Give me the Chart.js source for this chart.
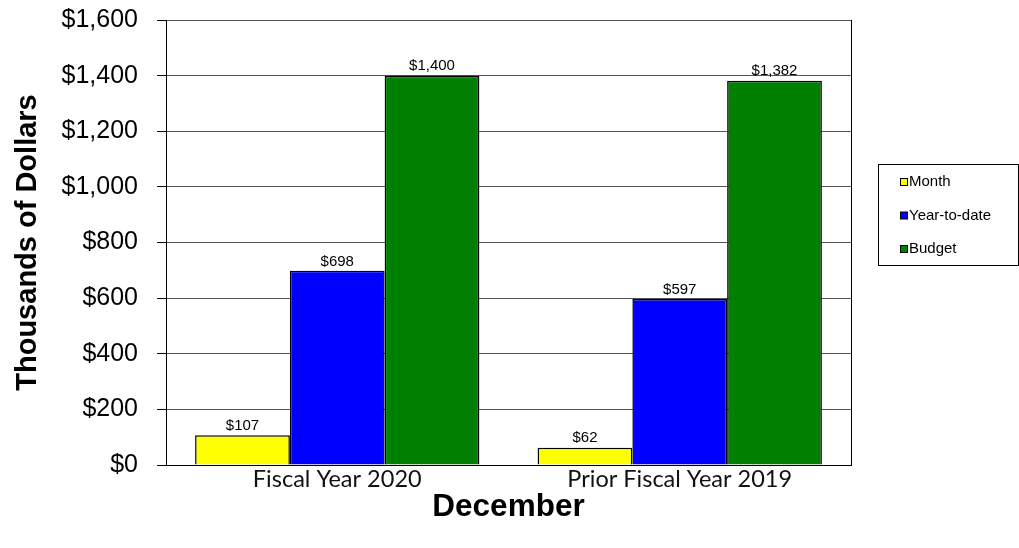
<!DOCTYPE html>
<html>
<head>
<meta charset="utf-8">
<script src="https://cdn.jsdelivr.net/npm/chart.js@4.4.1/dist/chart.umd.min.js"></script>
<style>
  html, body { margin: 0; padding: 0; background: #fff; }
  #wrap { width: 1019px; height: 548px; }
</style>
</head>
<body>
<div id="wrap"><canvas id="barChart"></canvas></div>
<script>
// Categories and series
const categories = ['Fiscal Year 2020', 'Prior Fiscal Year 2019'];
const seriesLabels = ['Month', 'Year-to-date', 'Budget'];
const monthValues = [107, 62];
const ytdValues = [698, 597];
const budgetValues = [1400, 1382];
const seriesColors = ['#FFFF00', '#0000FF', '#008000'];
const yMin = 0;
const yMax = 1600;
const yStep = 200;

const ARIAL = '"Liberation Sans", Arial, sans-serif';

function dollars(v) {
    return '$' + Number(v).toLocaleString('en-US');
}

// Value labels above each bar
const barLabels = {
    id: 'barLabels',
    afterDatasetsDraw(chart) {
        const ctx = chart.ctx;
        ctx.save();
        ctx.font = '15px ' + ARIAL;
        ctx.fillStyle = '#000';
        ctx.textAlign = 'center';
        ctx.textBaseline = 'bottom';
        chart.data.datasets.forEach((ds, i) => {
            chart.getDatasetMeta(i).data.forEach((bar, j) => {
                ctx.fillText(dollars(ds.data[j]), bar.x, bar.y - 2);
            });
        });
        ctx.restore();
    }
};

// Right edge of the plot frame + boxed legend
const frameAndLegend = {
    id: 'frameAndLegend',
    afterDraw(chart) {
        const ctx = chart.ctx;
        const a = chart.chartArea;
        ctx.save();
        ctx.strokeStyle = '#000';
        ctx.lineWidth = 1;
        ctx.beginPath();
        ctx.moveTo(Math.round(a.right) + 0.5, a.top);
        ctx.lineTo(Math.round(a.right) + 0.5, a.bottom);
        ctx.stroke();

        // legend box
        const bx = 878.5, by = 164.5, bw = 140, bh = 101;
        ctx.strokeStyle = '#000';
        ctx.strokeRect(bx, by, bw, bh);

        ctx.font = '15px ' + ARIAL;
        ctx.textAlign = 'left';
        ctx.textBaseline = 'middle';
        chart.data.datasets.forEach((ds, i) => {
            const y = 182 + i * 33.5;
            ctx.fillStyle = ds.backgroundColor;
            ctx.fillRect(900.5, y - 3.5, 7, 7);
            ctx.strokeStyle = '#000';
            ctx.strokeRect(900.5, y - 3.5, 7, 7);
            ctx.fillStyle = '#000';
            ctx.fillText(ds.label, 909, y);
        });
        ctx.restore();
    }
};

const chartCtx = document.getElementById('barChart').getContext('2d');
const barChart = new Chart(chartCtx, {
    type: 'bar',
    data: {
        labels: categories,
        datasets: [
            { label: seriesLabels[0], data: monthValues, backgroundColor: seriesColors[0] },
            { label: seriesLabels[1], data: ytdValues, backgroundColor: seriesColors[1] },
            { label: seriesLabels[2], data: budgetValues, backgroundColor: seriesColors[2] }
        ]
    },
    options: {
        responsive: true,
        maintainAspectRatio: false,
        animation: false,
        layout: {
            padding: { top: 20, right: 168, left: 0, bottom: 0 }
        },
        datasets: {
            bar: {
                categoryPercentage: 0.83,
                barPercentage: 1.0,
                borderColor: '#000',
                borderWidth: 1.5
            }
        },
        plugins: {
            legend: { display: false },
            tooltip: { enabled: false }
        },
        scales: {
            x: {
                grid: { display: false, drawTicks: false },
                border: { display: true, color: '#000', width: 1 },
                ticks: {
                    color: '#111',
                    padding: 0,
                    font: { family: 'Lato, "Open Sans", sans-serif', size: 23.5 }
                },
                title: {
                    display: true,
                    text: 'December',
                    color: '#000',
                    font: { family: ARIAL, size: 31.5, weight: 'bold' },
                    padding: { top: 0, bottom: 22 }
                },
                afterFit(scale) {
                    scale.height = 83;
                    scale.paddingLeft = 0;
                    scale.paddingRight = 0;
                }
            },
            y: {
                min: yMin,
                max: yMax,
                grid: {
                    color: '#555',
                    lineWidth: 1,
                    tickLength: 9,
                    tickColor: '#000'
                },
                border: { display: true, color: '#000', width: 1 },
                ticks: {
                    stepSize: yStep,
                    color: '#000',
                    padding: 19,
                    font: { family: ARIAL, size: 25 },
                    callback: value => dollars(value)
                },
                title: {
                    display: true,
                    text: 'Thousands of Dollars',
                    color: '#000',
                    font: { family: ARIAL, size: 29, weight: 'bold' },
                    padding: { top: 11, bottom: 0 }
                },
                afterFit(scale) {
                    scale.width = 166;
                    scale.paddingTop = 0;
                    scale.paddingBottom = 0;
                }
            }
        }
    },
    plugins: [barLabels, frameAndLegend]
});
</script>
</body>
</html>
